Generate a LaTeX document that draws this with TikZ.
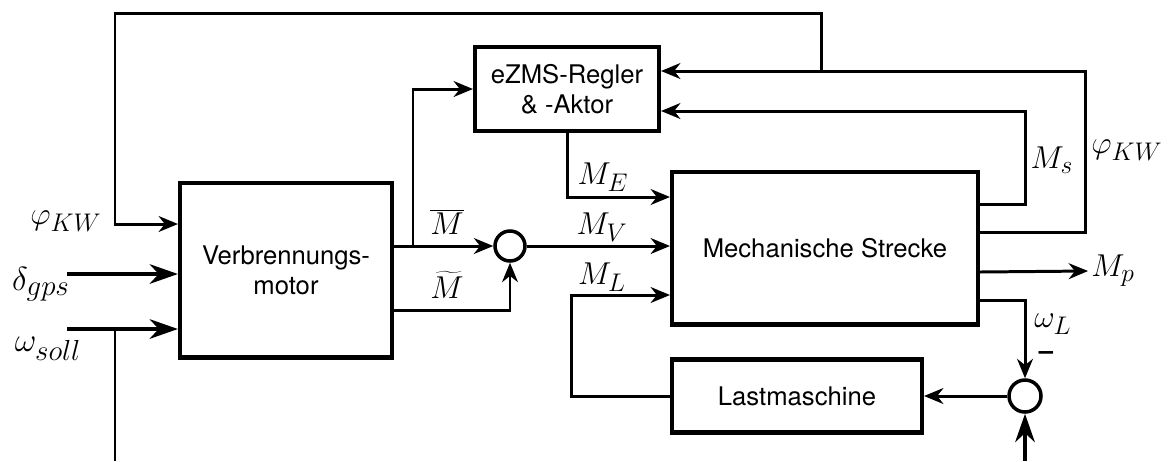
\RequirePackage{fix-cm}
\documentclass[tikz,border=0pt]{standalone}
\usepackage{fontspec}
\setmainfont{TeX Gyre Heros}
\usetikzlibrary{arrows.meta}
\DeclareMathSizes{18}{18}{14.5}{12}
\DeclareMathSizes{19}{19}{16.5}{14}
\begin{document}
\begin{tikzpicture}[x=0.02cm,y=-0.02cm,>={Stealth[length=11pt,width=9pt,inset=3.5pt]},line width=1.7pt,
  block/.style={draw,line width=2.3pt,align=center,font=\fontsize{14.6}{17}\selectfont},
  adder/.style={draw,circle,line width=2pt,minimum size=0.6cm,inner sep=0pt},
  lbl/.style={inner sep=1pt,font=\fontsize{18}{21}\selectfont},
  biglbl/.style={inner sep=1pt,font=\fontsize{19}{22}\selectfont},
  heavy/.style={line width=2.8pt,-{Stealth[length=16pt,width=11pt,inset=5pt]}}]
\useasboundingbox (0,0) rectangle (1173,461);
\node[block,minimum width=4.24cm,minimum height=3.5cm] (vm) at (286,270) {Verbrennungs-\\motor};
\node[block,minimum width=3.68cm,minimum height=1.68cm] (ez) at (567,89) {eZMS-Regler\\\& -Aktor};
\node[block,minimum width=6.12cm,minimum height=3.06cm] (ms) at (825,248) {Mechanische Strecke};
\node[block,minimum width=5cm,minimum height=1.46cm] (lm) at (797,396) {Lastmaschine};
\node[adder] (s1) at (510,246) {};
\node[adder,minimum size=0.64cm] (s2) at (1025,396) {};
\node[lbl] (phil) at (66,221) {$\varphi_{KW}$};
\node[biglbl] (delta) at (41,284) {$\delta_{gps}$};
\node[biglbl] (omsoll) at (48,349) {$\omega_{soll}$};
\node[lbl] (mbar) at (447,222) {$\overline{M}$};
\node[lbl,inner sep=0pt] (mtil) at (447,285) {$\widetilde{M}$};
\node[lbl] (me) at (603,177) {$M_E$};
\node[lbl] (mv) at (602,227) {$M_V$};
\node[lbl] (ml) at (602,277) {$M_L$};
\node[lbl] (msig) at (1052,160) {$M_s$};
\node[lbl] (phir) at (1127,150) {$\varphi_{KW}$};
\node[lbl] (mp) at (1113,271) {$M_p$};
\node[lbl] (oml) at (1053,324) {$\omega_L$};
\node[font=\fontsize{14.6}{17}\selectfont\bfseries] (minus) at (1046,356) {--};
\coordinate (split) at (821,71);
\coordinate (ezsplit) at (413,246);
\coordinate (din) at (67,274);
\coordinate (win) at (67,329);
\coordinate (wsplit) at (115,329);
\coordinate (wbot) at (115,461);
\coordinate (lbot) at (1025,461);
\draw[->] (ms.east |- 0,232) -- (1085,232) -- (1085,71) -- (ez.east |- 0,71);
\draw[->] (split) -- (821,13) -- (115,13) |- (vm.west |- 0,224);
\draw[->] (ms.east |- 0,204) -- (1025,204) -- (1025,111) -- (ez.east |- 0,111);
\draw[->] (ez.south) -- (ez.south |- 0,197) -- (ms.west |- 0,197);
\draw[->] (vm.east |- s1.west) -- (s1.west);
\draw[->] (ezsplit) |- (ez.west);
\draw[->] (vm.east |- 0,310) -| (s1.south);
\draw[->] (s1.east) -- (ms.west |- s1.east);
\draw[->] (lm.west) -| (571,295) -- (ms.west |- 0,295);
\draw[->] (ms.east |- 0,272) -- (mp.west);
\draw[->] (ms.east |- 0,300) -| (s2.north);
\draw[->] (s2.west) -- (lm.east);
\draw[heavy] (lbot) -- (s2.south);
\draw[heavy] (din) -- (vm.west |- din);
\draw[heavy] (win) -- (vm.west |- win);
\draw (wsplit) -- (wbot);
\end{tikzpicture}
\end{document}
